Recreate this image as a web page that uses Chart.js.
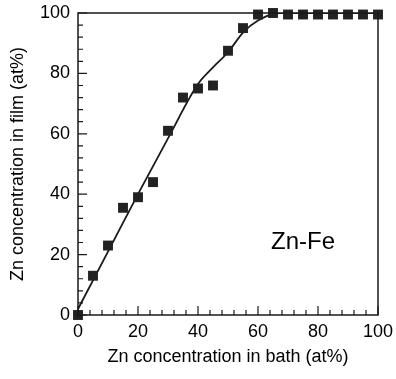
<!DOCTYPE html>
<html>
<head>
<meta charset="utf-8">
<script src="https://cdn.jsdelivr.net/npm/chart.js@4"></script>
<style>
  html, body { margin: 0; padding: 0; background: #fff; }
  #wrap { width: 396px; height: 379px; }
</style>
</head>
<body>
<div id="wrap"><canvas id="znChart" width="396" height="379"></canvas></div>
<script>
// valores
const bathZn = [0, 5, 10, 15, 20, 25, 30, 35, 40, 45, 50, 55, 60, 65, 70, 75, 80, 85, 90, 95, 100];
const filmZn = [0, 13, 23, 35.5, 39, 44, 61, 72, 75, 76, 87.5, 95, 99.5, 100, 99.5, 99.5, 99.5, 99.5, 99.5, 99.5, 99.5];

// curva ajustada (trazo continuo)
const fitX = [0, 10, 20, 30, 40, 45, 50, 55, 60, 67, 80, 100];
const fitY = [2, 21, 40, 58.5, 76.5, 82, 87, 93.5, 97.5, 100, 100, 100];

const tickLabels = ["0", "20", "40", "60", "80", "100"];
const alloyLabel = "Zn-Fe";

const ink = "#1a1a1a";
const FONT = "'Liberation Sans', Arial, sans-serif";

// marco, ticks hacia adentro y texto Zn-Fe
const framePlugin = {
  id: "frame",
  afterDatasetsDraw(chart) {
    const { ctx, chartArea: a, scales } = chart;
    ctx.save();
    ctx.strokeStyle = ink;
    ctx.lineWidth = 1.5;
    ctx.strokeRect(a.left, a.top, a.right - a.left, a.bottom - a.top);
    ctx.lineWidth = 1.2;
    for (let v = 0; v <= 100; v += 4) {
      const len = v % 20 === 0 ? 9 : 5;
      const px = scales.x.getPixelForValue(v);
      const py = scales.y.getPixelForValue(v);
      ctx.beginPath();
      ctx.moveTo(px, a.bottom);
      ctx.lineTo(px, a.bottom - len);
      ctx.moveTo(a.left, py);
      ctx.lineTo(a.left + len, py);
      ctx.stroke();
    }
    ctx.fillStyle = "#000";
    ctx.font = "24px " + FONT;
    ctx.textAlign = "center";
    ctx.textBaseline = "middle";
    ctx.fillText(alloyLabel, scales.x.getPixelForValue(75), scales.y.getPixelForValue(24));
    ctx.restore();
  }
};

new Chart(document.getElementById("znChart").getContext("2d"), {
  type: "scatter",
  data: {
    datasets: [
      {
        label: "fit",
        data: fitX.map((x, i) => ({ x: x, y: fitY[i] })),
        showLine: true,
        borderColor: ink,
        borderWidth: 1.8,
        pointRadius: 0,
        cubicInterpolationMode: "monotone",
        fill: false,
        order: 2
      },
      {
        label: "Zn-Fe",
        data: bathZn.map((x, i) => ({ x: x, y: filmZn[i] })),
        pointStyle: "rect",
        pointRadius: 7,
        backgroundColor: "#222",
        borderColor: "#222",
        borderWidth: 0,
        clip: false,
        order: 1
      }
    ]
  },
  options: {
    responsive: false,
    animation: false,
    layout: { padding: { left: 0, top: 13, right: 18, bottom: 0 } },
    plugins: {
      legend: { display: false },
      tooltip: { enabled: false }
    },
    scales: {
      x: {
        type: "linear",
        min: 0, max: 100,
        grid: { display: false, drawTicks: false },
        border: { display: false },
        ticks: {
          stepSize: 20,
          color: "#000",
          font: { family: FONT, size: 18 },
          padding: 6,
          callback: (v) => tickLabels[v / 20]
        },
        title: {
          display: true,
          text: "Zn concentration in bath (at%)",
          color: "#000",
          font: { family: FONT, size: 18 },
          padding: 11
        },
        afterFit: (s) => { s.height = 64; s.paddingLeft = 0; s.paddingRight = 0; }
      },
      y: {
        type: "linear",
        min: 0, max: 100,
        grid: { display: false, drawTicks: false },
        border: { display: false },
        ticks: {
          stepSize: 20,
          color: "#000",
          font: { family: FONT, size: 18 },
          padding: 8,
          callback: (v) => tickLabels[v / 20]
        },
        title: {
          display: true,
          text: "Zn concentration in film (at%)",
          color: "#000",
          font: { family: FONT, size: 18 },
          padding: 7
        },
        afterFit: (s) => { s.width = 78; s.paddingTop = 0; s.paddingBottom = 0; }
      }
    }
  },
  plugins: [framePlugin]
});
</script>
</body>
</html>
